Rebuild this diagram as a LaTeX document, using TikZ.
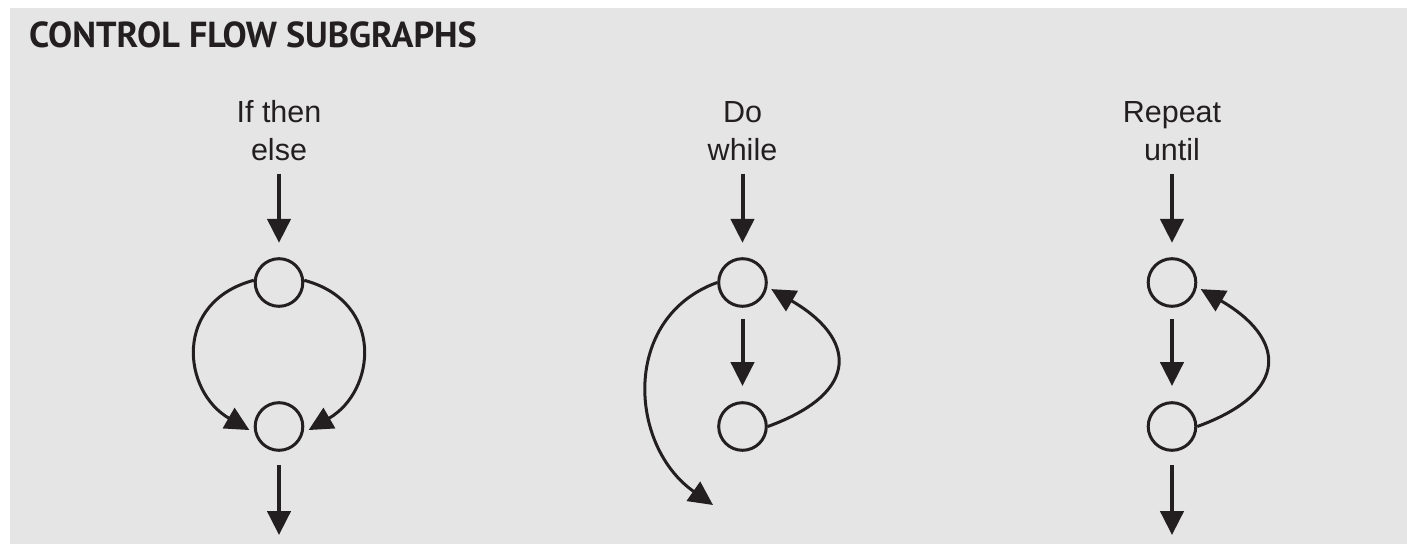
\documentclass[tikz,border=0pt]{standalone}
\usepackage{fontspec}
\setmainfont{Liberation Sans}
\newfontfamily\headfont{PT Sans}
\usepackage{tikz}
\usetikzlibrary{positioning,arrows.meta}

\definecolor{panelgray}{RGB}{229,229,229}
\definecolor{ink}{RGB}{35,31,32}

\begin{document}
\begin{tikzpicture}[
    >={Triangle[length=0.6cm,width=0.58cm]},
    font=\fontsize{21.7}{27.5}\selectfont,
    every node/.style={align=center, text=ink},
    caption/.style={anchor=base, inner sep=0pt},
    state/.style={draw=ink, circle, line width=0.075cm, minimum size=1.19cm, inner sep=0pt},
    flow/.style={->, draw=ink, line width=0.1cm},
    backedge/.style={->, draw=ink, line width=0.075cm}
]

% Panel
\useasboundingbox (0,0) rectangle (35.175,-13.6);
\fill[panelgray] (0.25,-0.2) rectangle (35.175,-13.6);

\node[
    anchor=base west,
    inner sep=0pt,
    font=\headfont\bfseries\fontsize{25.7}{30}\selectfont
] (title) at (0.72,-1.2) {CONTROL FLOW SUBGRAPHS};

% Labels (base sits on the second line)
\node[caption] (ite label) at (6.975,-4.025) {If then\\else};
\node[caption] (dw label) at (18.5625,-4.025) {Do\\while};
\node[caption] (ru label) at (29.3,-4.025) {Repeat\\until};

% States
\node[state] (ite top) at (6.975,-7.0625) {};
\node[state, below=2.335cm of ite top] (ite bot) {};

\node[state] (dw top) at (18.5625,-7.0625) {};
\node[state, below=2.335cm of dw top] (dw bot) {};

\node[state] (ru top) at (29.3,-7.0625) {};
\node[state, below=2.335cm of ru top] (ru bot) {};

% Exits
\coordinate[below=2.08cm of ite bot] (ite out);
\coordinate (dw out) at (17.825,-12.625);
\coordinate[below=2.08cm of ru bot] (ru out);

% Straight flow
\draw[flow, shorten <=0.3cm, shorten >=0.36cm] (ite label) -- (ite top);
\draw[flow, shorten <=0.3cm, shorten >=0.36cm] (dw label) -- (dw top);
\draw[flow, shorten <=0.3cm, shorten >=0.36cm] (ru label) -- (ru top);

\draw[flow, shorten <=0.28cm, shorten >=0.38cm] (dw top) -- (dw bot);
\draw[flow, shorten <=0.28cm, shorten >=0.38cm] (ru top) -- (ru bot);

\draw[flow, shorten <=0.34cm] (ite bot) -- (ite out);
\draw[flow, shorten <=0.34cm] (ru bot) -- (ru out);

% Branches and loops
\draw[backedge, shorten >=0.15cm]
    (ite top.175) to[out=195, in=150, looseness=1.4] (ite bot.195);
\draw[backedge, shorten >=0.15cm]
    (ite top.5) to[out=-15, in=30, looseness=1.4] (ite bot.-15);

\draw[backedge]
    (dw top.west) to[out=200, in=145, looseness=1.18] (dw out);
\draw[backedge, shorten >=0.11cm]
    (dw bot.east) to[out=20, in=-30, looseness=1.85] (dw top.-10);

\draw[backedge, shorten >=0.11cm]
    (ru bot.east) to[out=20, in=-30, looseness=1.85] (ru top.-10);

\end{tikzpicture}
\end{document}
